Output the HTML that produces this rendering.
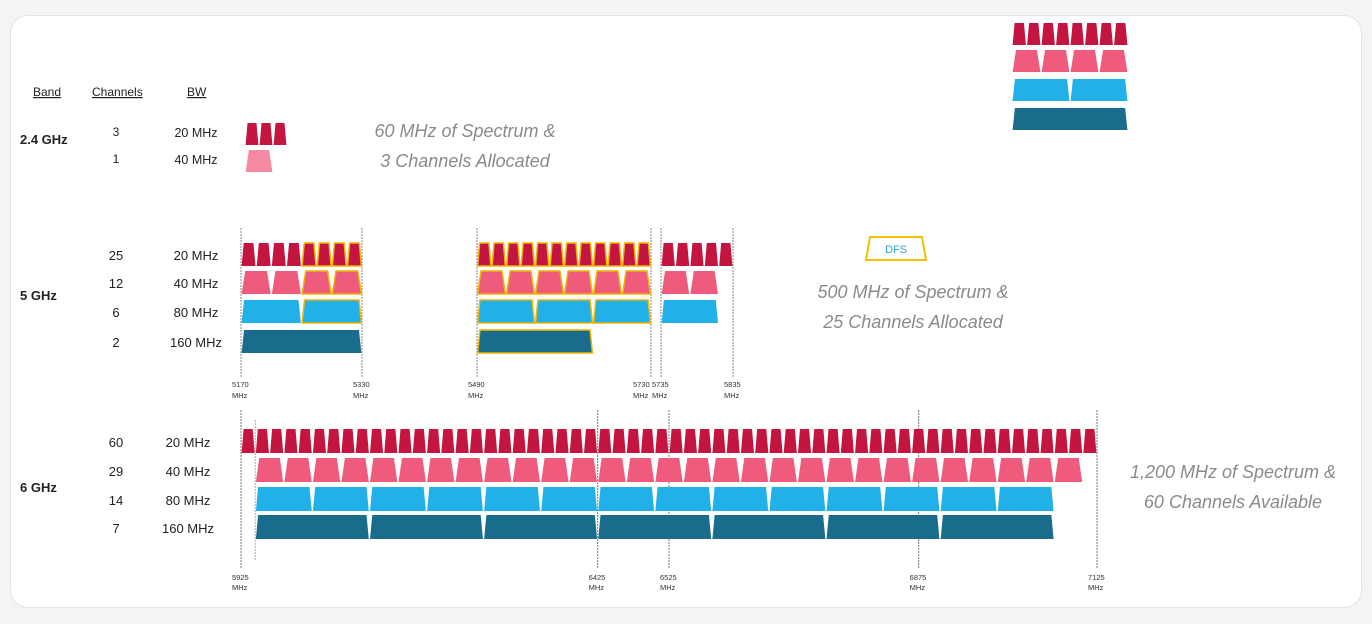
<!DOCTYPE html>
<html><head><meta charset="utf-8">
<style>
html,body{margin:0;padding:0;background:#f4f4f4;}
body{width:1372px;height:624px;position:relative;overflow:hidden;font-family:"Liberation Sans",sans-serif;}
#card{position:absolute;left:10px;top:15px;width:1352px;height:593px;background:#fff;border:1px solid #e4e4e4;border-radius:18px;box-sizing:border-box;}
svg{position:absolute;left:0;top:0;}
</style></head>
<body>
<div id="card"></div>
<svg id="chart" width="1372" height="624"></svg>
<script>
// ---- data ----
const bands = ["2.4 GHz","5 GHz","6 GHz"];
const bw24 = [20,40];
const counts24 = [3,1];
const bw5 = [20,40,80,160];
const counts5 = [25,12,6,2];
const bw6 = [20,40,80,160];
const counts6 = [60,29,14,7];
// 5 GHz segments (MHz)
const seg5Start = [5170,5490,5735];
const seg5End = [5330,5730,5835];
const dfsStart = 5250, dfsEnd = 5730;
const ticks5 = [5170,5330,5490,5730,5735,5835];
const ticks6 = [5925,6425,6525,6875,7125];
const start6 = 5925, end6 = 7125, chanStart6 = 5945;
const texts = [["60 MHz of Spectrum &","3 Channels Allocated"],["500 MHz of Spectrum &","25 Channels Allocated"],["1,200 MHz of Spectrum &","60 Channels Available"]];

const NS="http://www.w3.org/2000/svg";
const svg=document.getElementById('chart');
const colors={20:"#c3153f",40:"#ee5b7c",80:"#22b0e8",160:"#196c8c"};
function el(tag,attrs,parent){const e=document.createElementNS(NS,tag);for(const k in attrs)e.setAttribute(k,attrs[k]);(parent||svg).appendChild(e);return e;}
function txt(x,y,s,size,opts){const t=el('text',Object.assign({x:x,y:y,'font-size':size,fill:'#222','font-family':'Liberation Sans, sans-serif'},opts||{}));t.textContent=s;return t;}
function chan(x0,x1,y,h,bw,dfs){
  const w=x1-x0;const inset=bw===20?w*0.18:(bw===40?w*0.14:(bw===80?w*0.05:w*0.025));
  const pts=`${x0+0.6},${y+h} ${x0+inset},${y} ${x1-inset},${y} ${x1-0.6},${y+h}`;
  const p=el('polygon',{points:pts,fill:colors[bw],stroke:dfs?'#f2b400':'none','stroke-width':dfs?1.5:0});
  return p;
}
// scales
function x5(f){for(let i=0;i<seg5Start.length;i++){const px0=[241,477,661][i],px1=[362,651,733][i];if(f>=seg5Start[i]-0.01&&f<=seg5End[i]+0.01)return px0+(f-seg5Start[i])/(seg5End[i]-seg5Start[i])*(px1-px0);}return 0;}
function x6(f){return 241+(f-start6)/(end6-start6)*(1097-241);}

// headers
[["Band",33],["Channels",92],["BW",187]].forEach(([s,x])=>{const t=txt(x,96,s,12,{'text-decoration':'underline'});});

// band labels
const bandY=[144,300,492];
bands.forEach((b,i)=>{const t=txt(20,bandY[i],b,13,{'font-weight':'bold'});});

// 2.4 GHz
const rows24=[123,150];
bw24.forEach((bw,r)=>{
  const a=txt(116,rows24[r]+13,String(counts24[r]),12,{'text-anchor':'middle'});
  const b=txt(196,rows24[r]+14,bw+" MHz",12.5,{'text-anchor':'middle'});
  const w=bw*0.7;
  for(let i=0;i<counts24[r];i++){const p=chan(245+i*w,245+(i+1)*w,rows24[r],22,bw,false);if(bw===40)p.setAttribute('fill','#f38aa2');}
});

// 5 GHz
const rows5=[243,271,300,330];
ticks5.forEach(f=>{const x=x5(f);const l=el('line',{x1:x,x2:x,y1:228,y2:378,stroke:'#888','stroke-width':1,'stroke-dasharray':'2,1'});
  const lx=f===5730?x-18:x-9;
  const a=txt(lx,387,String(f),7.5,{fill:'#333'});
  const b=txt(lx,398,"MHz",7.5,{fill:'#333'});});
bw5.forEach((bw,r)=>{
  const a=txt(116,rows5[r]+17,String(counts5[r]),13,{'text-anchor':'middle'});
  const b=txt(196,rows5[r]+17,bw+" MHz",13,{'text-anchor':'middle'});
  seg5Start.forEach((s,si)=>{
    let f=s;
    while(f+bw<=seg5End[si]+0.01){
      const dfs=f>=dfsStart&&f+bw<=dfsEnd;
      const p=chan(x5(f),x5(f+bw),rows5[r],23,bw,dfs);
      
      f+=bw;
    }
  });
});
// DFS badge
const dfsG=el('g',{});
el('polygon',{points:'866,260 870,237 922,237 926,260',fill:'#fff',stroke:'#f2c000','stroke-width':2},dfsG);
txt(896,253,"DFS",11,{'text-anchor':'middle',fill:'#2aa3dd'});

// 6 GHz
const rows6=[429,458,487,515];
ticks6.forEach(f=>{const x=x6(f);const l=el('line',{x1:x,x2:x,y1:410,y2:568,stroke:'#777','stroke-width':1,'stroke-dasharray':'2,1'});
  const a=txt(x-9,580,String(f),7.5,{fill:'#333'});
  const b=txt(x-9,590,"MHz",7.5,{fill:'#333'});});
const l2=el('line',{x1:x6(chanStart6),x2:x6(chanStart6),y1:420,y2:560,stroke:'#aaa','stroke-width':1,'stroke-dasharray':'2,1'});


bw6.forEach((bw,r)=>{
  const a=txt(116,rows6[r]+18,String(counts6[r]),13,{'text-anchor':'middle'});
  const b=txt(188,rows6[r]+18,bw+" MHz",13,{'text-anchor':'middle'});
  const base=bw===20?start6:chanStart6;
  for(let i=0;i<counts6[r];i++){
    const p=chan(x6(base+i*bw),x6(base+(i+1)*bw),rows6[r],24,bw,false);
    
  }
});

// summary texts
const tpos=[[465,137],[913,298],[1233,478]];
texts.forEach((pair,i)=>{pair.forEach((s,j)=>{const t=txt(tpos[i][0],tpos[i][1]+j*30,s,18,{'text-anchor':'middle','font-style':'italic',fill:'#8a8a8a'});});});

// legend top right
const legRows=[[23,8,20],[50,4,40],[79,2,80],[108,1,160]];
legRows.forEach(([y,n,bw])=>{const w=116/n;for(let i=0;i<n;i++){const p=chan(1012+i*w,1012+(i+1)*w,y,22,bw,false);}});
</script>
</body></html>
